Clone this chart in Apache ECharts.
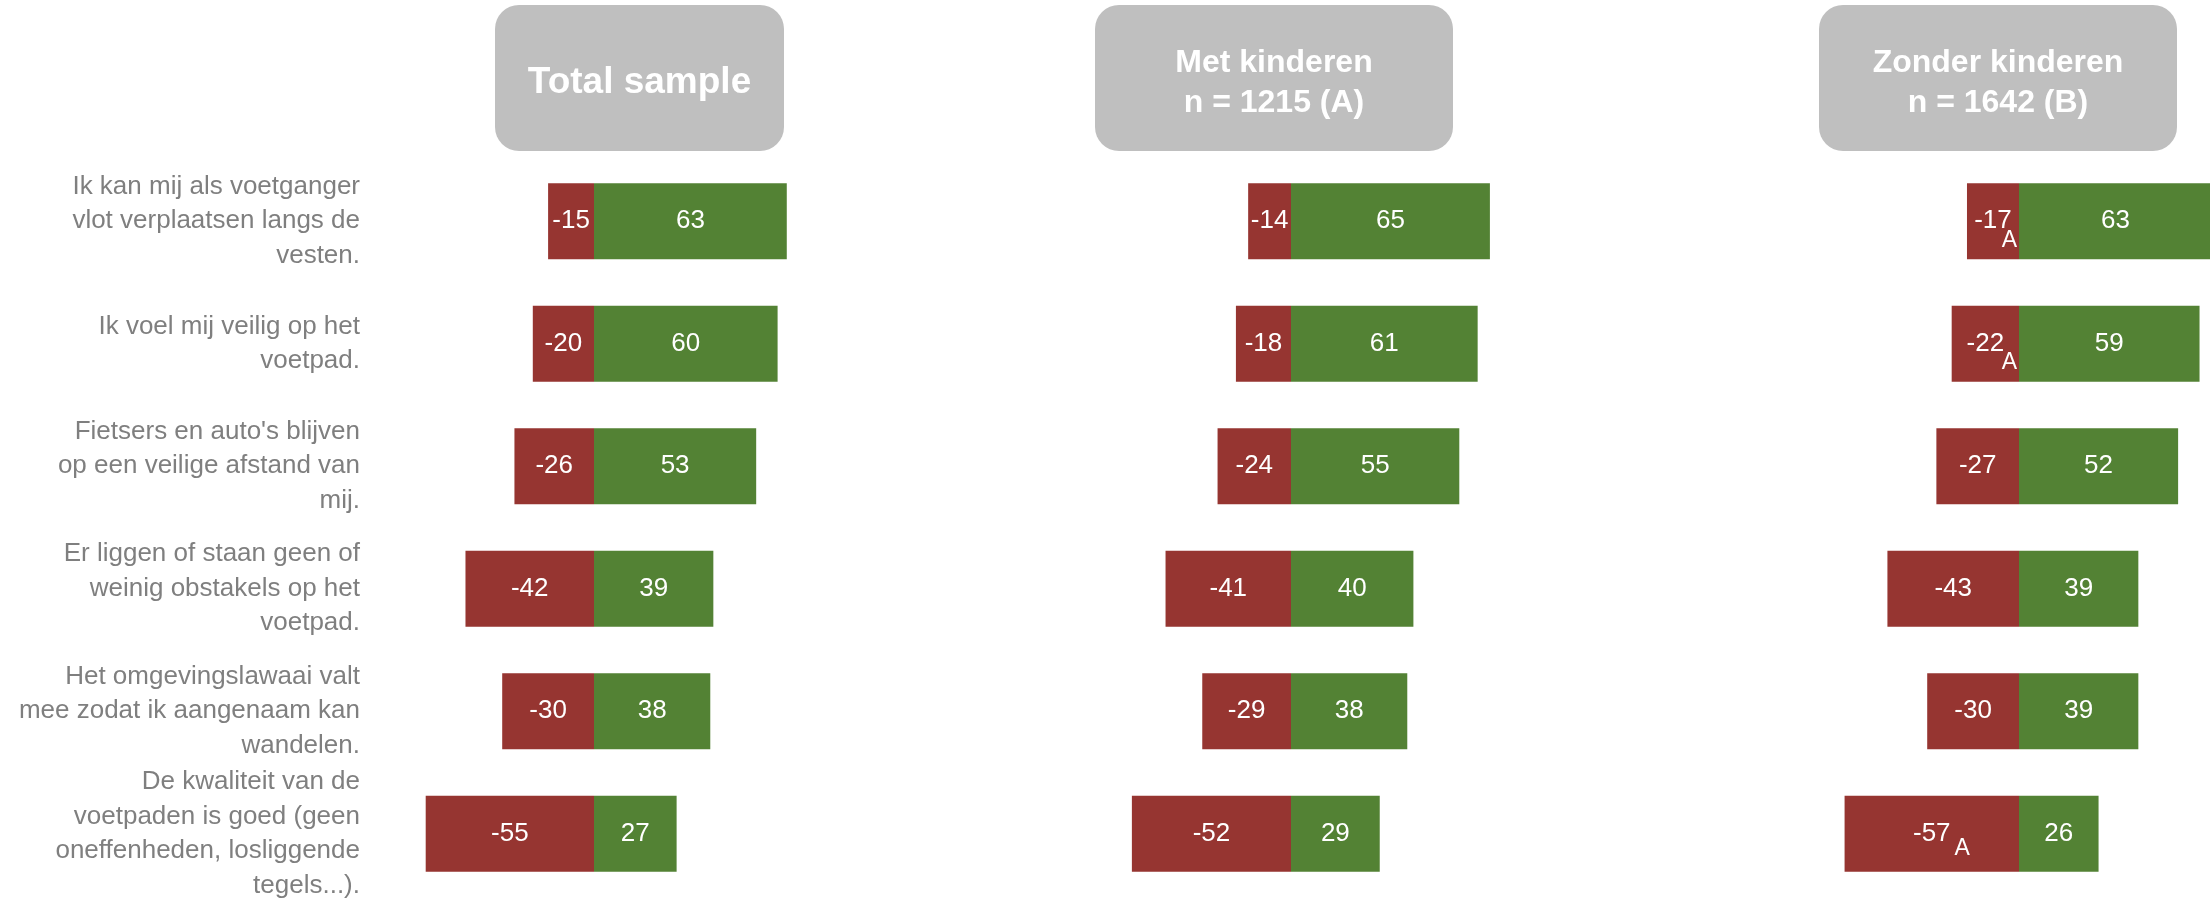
<!DOCTYPE html>
<html>
<head>
<meta charset="utf-8">
<script src="https://cdn.jsdelivr.net/npm/echarts@6/dist/echarts.min.js"></script>
<style>
  html, body { margin: 0; padding: 0; background: #fff; }
  #main { width: 2210px; height: 899px; }
</style>
</head>
<body>
<div id="main"></div>
<script>
// statements, top to bottom
const categories = [
  "Ik kan mij als voetganger\nvlot verplaatsen langs de\nvesten.",
  "Ik voel mij veilig op het\nvoetpad.",
  "Fietsers en auto's blijven\nop een veilige afstand van\nmij.",
  "Er liggen of staan geen of\nweinig obstakels op het\nvoetpad.",
  "Het omgevingslawaai valt\nmee zodat ik aangenaam kan\nwandelen.",
  "De kwaliteit van de\nvoetpaden is goed (geen\noneffenheden, losliggende\ntegels...)."
]

const panelTitles = ['Total sample', 'Met kinderen\nn = 1215 (A)', 'Zonder kinderen\nn = 1642 (B)']

const negTotal = [-15, -20, -26, -42, -30, -55]
const posTotal = [63, 60, 53, 39, 38, 27]
const negMet = [-14, -18, -24, -41, -29, -52]
const posMet = [65, 61, 55, 40, 38, 29]
const negZonder = [-17, -22, -27, -43, -30, -57]
const posZonder = [63, 59, 52, 39, 39, 26]
// significance letters (vs group A) on the negative bars of group B
const sigZonder = ['A', 'A', '', '', '', 'A']

const FONT = "'Liberation Sans', Arial, sans-serif"
const RED = '#963531'
const GREEN = '#538234'

const k = 3.06            // px per percentage point
const xMin = -60, xMax = 70
const zeros = [594, 1291, 2019]
const boxes = [[495, 289], [1095, 358], [1819, 358]]

var chartDom = document.getElementById('main');
var myChart = echarts.init(chartDom);

let grids = zeros.map(z => ({
    left: z + xMin * k,
    width: (xMax - xMin) * k,
    top: 160,
    height: 735,
    outerBoundsMode: 'none'
}))

let xAxes = zeros.map((z, i) => ({
    type: 'value', gridIndex: i, min: xMin, max: xMax, show: false
}))

let yAxes = zeros.map((z, i) => ({
    type: 'category', gridIndex: i, data: categories, inverse: true,
    axisLine: { show: false }, axisTick: { show: false },
    axisLabel: {
        show: i === 0,
        interval: 0,
        showMinLabel: true,
        showMaxLabel: true,
        hideOverlap: false,
        margin: z + xMin * k - 360,
        color: '#7f7f7f',
        fontFamily: FONT,
        fontSize: 26,
        lineHeight: 34.5,
        padding: [18, 0, 0, 0],
        align: 'right'
    }
}))

let barBase = (i, name, data, color) => ({
    name: name,
    type: 'bar',
    xAxisIndex: i,
    yAxisIndex: i,
    data: data,
    barWidth: 76,
    barGap: '-100%',
    silent: true,
    itemStyle: { color: color },
    label: {
        show: true,
        position: 'inside',
        color: '#fff',
        fontFamily: FONT,
        fontSize: 26
    }
})

let series = [
    barBase(0, 'neg', negTotal, RED),
    barBase(0, 'pos', posTotal, GREEN),
    barBase(1, 'neg', negMet, RED),
    barBase(1, 'pos', posMet, GREEN),
    barBase(2, 'neg', negZonder, RED),
    barBase(2, 'pos', posZonder, GREEN)
]

// letters: inline after the number when the bar is wide enough, else pushed to the right edge
series.push({
    name: 'sig',
    type: 'bar',
    xAxisIndex: 2,
    yAxisIndex: 2,
    barWidth: 76,
    barGap: '-100%',
    silent: true,
    itemStyle: { color: 'rgba(0,0,0,0)' },
    data: negZonder.map((v, j) => {
        if (!sigZonder[j]) return '-'
        let inline = Math.abs(v) * k / 2 - 38
        return {
            value: v,
            label: {
                show: true,
                formatter: sigZonder[j],
                position: 'insideRight',
                distance: Math.max(2, inline),
                offset: [0, inline > 2 ? 15 : 19],
                color: '#fff',
                fontFamily: FONT,
                fontSize: 23
            }
        }
    })
})

let graphics = []
boxes.forEach(([x, w], i) => {
    graphics.push({
        type: 'rect',
        shape: { x: x, y: 5, width: w, height: 146, r: 24 },
        style: { fill: '#bfbfbf' },
        silent: true
    })
    graphics.push({
        type: 'text',
        x: x + w / 2,
        y: 83,
        style: {
            text: panelTitles[i],
            align: 'center',
            verticalAlign: 'middle',
            fill: '#fff',
            fontFamily: FONT,
            fontWeight: 'bold',
            fontSize: i === 0 ? 37 : 32,
            lineHeight: 40
        },
        silent: true
    })
})

let option = {
    animation: false,
    backgroundColor: '#fff',
    grid: grids,
    xAxis: xAxes,
    yAxis: yAxes,
    series: series,
    graphic: graphics
};

myChart.setOption(option);
window.addEventListener("resize", () => {
    myChart.resize()
});
</script>
</body>
</html>
